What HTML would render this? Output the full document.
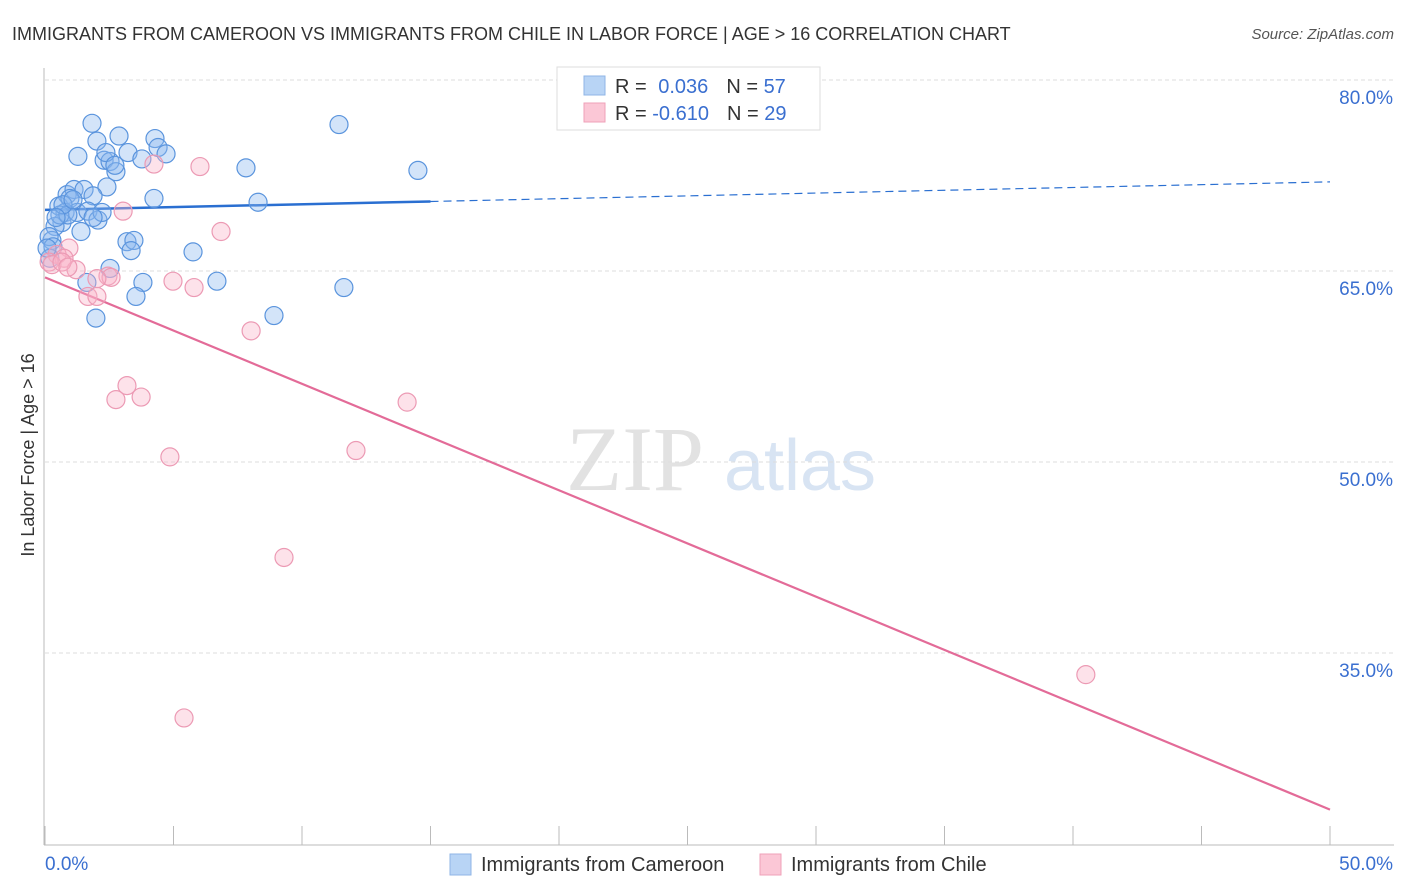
<!DOCTYPE html>
<html><head><meta charset="utf-8">
<style>
body{margin:0;background:#fff;font-family:"Liberation Sans",sans-serif;}
#wrap{position:relative;width:1406px;height:892px;overflow:hidden;}
</style></head>
<body>
<div id="wrap">
<svg id="chart" width="1406" height="892" xmlns="http://www.w3.org/2000/svg">
<text x="12" y="40" font-size="18" fill="#333">IMMIGRANTS FROM CAMEROON VS IMMIGRANTS FROM CHILE IN LABOR FORCE | AGE &gt; 16 CORRELATION CHART</text>
<text x="1394" y="39" font-size="15" fill="#555" font-style="italic" text-anchor="end">Source: ZipAtlas.com</text>
<g>
<text x="635" y="490" font-size="92" fill="#e2e2e2" text-anchor="middle" font-family="Liberation Serif,serif">ZIP</text>
<text x="800" y="490" font-size="72" fill="#d8e4f3" text-anchor="middle">atlas</text>
</g>
<g id="grid"></g>
<g id="axes"></g>
<g id="lines"></g>
<g id="points"></g>
<text transform="translate(34,455) rotate(-90)" font-size="18" fill="#333" text-anchor="middle">In Labor Force | Age &gt; 16</text>
<g>
<rect x="557" y="67" width="263" height="63" fill="#fff" stroke="#ddd"/>
<rect x="584" y="76" width="21" height="19" fill="#b8d4f5" stroke="#8fb5e6"/>
<rect x="584" y="103" width="21" height="19" fill="#fbc7d6" stroke="#efa1b8"/>
<text x="615" y="93" font-size="20" fill="#333">R = <tspan fill="#3a6fd0" dx="6">0.036</tspan><tspan dx="18" fill="#333">N = </tspan><tspan fill="#3a6fd0">57</tspan></text>
<text x="615" y="120" font-size="20" fill="#333">R = <tspan fill="#3a6fd0">-0.610</tspan><tspan dx="18" fill="#333">N = </tspan><tspan fill="#3a6fd0">29</tspan></text>
</g>
<g>
<rect x="450" y="854" width="21" height="21" fill="#b8d4f5" stroke="#8fb5e6"/>
<text x="481" y="871" font-size="20" fill="#333">Immigrants from Cameroon</text>
<rect x="760" y="854" width="21" height="21" fill="#fbc7d6" stroke="#efa1b8"/>
<text x="791" y="871" font-size="20" fill="#333">Immigrants from Chile</text>
</g>
</svg>
</div>
<script>
const xTicks=[0,5,10,15,20,25,30,35,40,45,50];
const yTicks=[80,65,50,35];
const yTickLabels=["80.0%","65.0%","50.0%","35.0%"];
const xTickLabels=["0.0%","50.0%"];
const camX=[1.83,2.02,2.88,4.28,1.28,2.30,2.53,2.37,3.23,3.77,4.40,4.71,2.76,7.82,11.44,14.51,0.86,1.13,1.52,2.41,4.24,1.87,8.29,0.54,0.97,0.78,1.25,1.67,2.06,0.66,1.40,0.39,0.27,0.16,0.31,3.19,3.46,3.35,5.76,2.53,3.81,1.63,3.54,6.69,11.63,1.98,8.91,0.19,0.58,0.89,2.22,0.70,0.08,0.43,1.09,1.87,2.72];
const camY=[76.6,75.2,75.6,75.4,74.0,73.7,73.6,74.3,74.3,73.8,74.7,74.2,72.8,73.1,76.5,72.9,71.0,71.4,71.4,71.6,70.7,70.9,70.4,70.1,70.7,69.6,69.6,69.7,69.0,68.8,68.1,68.5,67.4,67.7,66.9,67.3,67.4,66.6,66.5,65.2,64.1,64.1,63.0,64.2,63.7,61.3,61.5,66.0,69.4,69.4,69.6,70.2,66.8,69.2,70.6,69.2,73.3];
const chiX=[4.24,6.03,3.04,6.85,0.93,0.47,0.74,0.16,1.21,2.45,2.57,2.02,4.98,5.80,1.67,2.02,8.02,3.19,2.76,3.74,14.09,12.10,4.86,9.30,5.41,40.5,0.27,0.66,0.89];
const chiY=[73.4,73.2,69.7,68.1,66.8,66.3,66.0,65.7,65.1,64.6,64.5,64.4,64.2,63.7,63.0,63.0,60.3,56.0,54.9,55.1,54.7,50.9,50.4,42.5,29.9,33.3,65.5,65.7,65.3];
const camTrend=[69.8,72.0];
const chiTrend=[64.5,22.7];
const camSolidEnd=15;

const NS="http://www.w3.org/2000/svg";
const X=v=>45+v*25.7;
const Y=v=>80+(80-v)*12.733;
function mk(tag,attrs,parent){const e=document.createElementNS(NS,tag);for(const k in attrs)e.setAttribute(k,attrs[k]);document.getElementById(parent).appendChild(e);return e;}
yTicks.forEach((t,i)=>{
 const g=mk('line',{x1:45,x2:1394,y1:Y(t),y2:Y(t),stroke:'#ddd','stroke-dasharray':'4,3'},'grid');
 
 
 const tx=mk('text',{x:1393,y:Y(t)+24,'font-size':19,fill:'#3a6fd0','text-anchor':'end'},'axes');
 tx.textContent=yTickLabels[i];
 
 
});
const ax=mk('line',{x1:44,x2:44,y1:68,y2:845,stroke:'#bbb'},'axes');


const bx=mk('line',{x1:44,x2:1394,y1:845,y2:845,stroke:'#bbb'},'axes');


xTicks.forEach(t=>{
 const l=mk('line',{x1:X(t),x2:X(t),y1:826,y2:845,stroke:'#bbb'},'axes');
 
 
});
const xl0=mk('text',{x:45,y:870,'font-size':19,fill:'#3a6fd0'},'axes');xl0.textContent=xTickLabels[0];


const xl1=mk('text',{x:1393,y:870,'font-size':19,fill:'#3a6fd0','text-anchor':'end'},'axes');xl1.textContent=xTickLabels[1];



camX.forEach((x,i)=>{
 const c=mk('circle',{cx:X(x),cy:Y(camY[i]),r:9,fill:'rgba(140,185,240,0.38)',stroke:'#5a94dd','stroke-width':1.2},'points');
 
 
});
chiX.forEach((x,i)=>{
 const c=mk('circle',{cx:X(x),cy:Y(chiY[i]),r:9,fill:'rgba(250,180,200,0.38)',stroke:'#ec9ab4','stroke-width':1.2},'points');
 
 
});
const cy=x=>camTrend[0]+(camTrend[1]-camTrend[0])*x/50;
const l1=mk('line',{x1:X(0),y1:Y(cy(0)),x2:X(camSolidEnd),y2:Y(cy(camSolidEnd)),stroke:'#2a6fd1','stroke-width':2.5},'lines');


const l2=mk('line',{x1:X(camSolidEnd),y1:Y(cy(camSolidEnd)),x2:X(50),y2:Y(cy(50)),stroke:'#2a6fd1','stroke-width':1.2,'stroke-dasharray':'8,5'},'lines');


const l3=mk('line',{x1:X(0),y1:Y(chiTrend[0]),x2:X(50),y2:Y(chiTrend[1]),stroke:'#e36b98','stroke-width':2.2},'lines');


</script>
</body></html>
